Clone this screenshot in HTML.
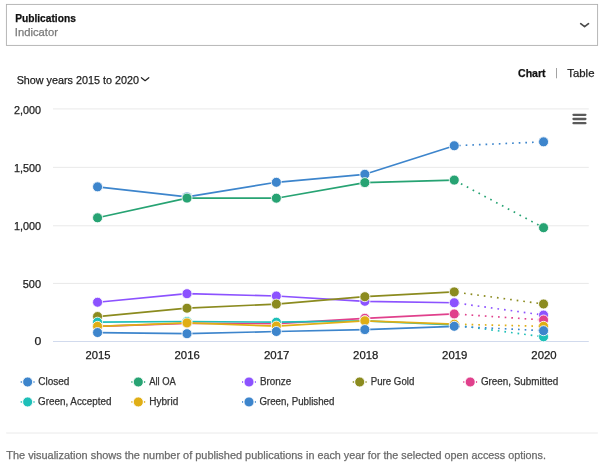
<!DOCTYPE html><html><head><meta charset="utf-8"><title>Publications</title>
<style>html,body{margin:0;padding:0;background:#fff}body{width:602px;height:465px;overflow:hidden}svg{display:block}text{font-family:"Liberation Sans",sans-serif}</style></head><body>
<svg width="602" height="465" viewBox="0 0 602 465">
<rect width="602" height="465" fill="#fff"/>
<rect x="6.4" y="4.4" width="591.2" height="41" fill="#fff" stroke="#b0b0b0" stroke-width="0.9"/>
<path d="M580.7 23.7 L584.6 26.7 L588.5 23.7" fill="none" stroke="#4a4a4a" stroke-width="1.7" stroke-linecap="round" stroke-linejoin="round"/>
<path d="M141.4 77.7 L145.1 80.7 L148.8 77.7" fill="none" stroke="#222" stroke-width="1.2" stroke-linecap="round" stroke-linejoin="round"/>
<line x1="556.5" y1="68" x2="556.5" y2="78.3" stroke="#999" stroke-width="0.9"/>
<line x1="53" y1="108.9" x2="588.8" y2="108.9" stroke="#e6e6e6" stroke-width="0.9"/>
<line x1="53" y1="167.4" x2="588.8" y2="167.4" stroke="#e6e6e6" stroke-width="0.9"/>
<line x1="53" y1="225.75" x2="588.8" y2="225.75" stroke="#e6e6e6" stroke-width="0.9"/>
<line x1="53" y1="283.45" x2="588.8" y2="283.45" stroke="#e6e6e6" stroke-width="0.9"/>
<line x1="53" y1="341.5" x2="588.8" y2="341.5" stroke="#ccd6eb" stroke-width="0.9"/>
<line x1="573.5" y1="114.8" x2="585.4" y2="114.8" stroke="#5a5a5a" stroke-width="2.3" stroke-linecap="round"/>
<line x1="573.5" y1="119.0" x2="585.4" y2="119.0" stroke="#5a5a5a" stroke-width="2.3" stroke-linecap="round"/>
<line x1="573.5" y1="123.2" x2="585.4" y2="123.2" stroke="#5a5a5a" stroke-width="2.3" stroke-linecap="round"/>
<path d="M97.55 186.85 L187.0 196.9 L276.35 182.3 L364.85 174.3 L454.25 145.75" fill="none" stroke="#3d85cc" stroke-width="1.66" stroke-linejoin="round" stroke-linecap="round"/>
<path d="M454.25 145.75 L543.55 141.85" fill="none" stroke="#3d85cc" stroke-width="1.66" stroke-dasharray="1.66 4.98" stroke-dashoffset="1.87"/>
<circle cx="97.55" cy="186.85" r="5.0" fill="#3d85cc" stroke="#fff" stroke-width="0.83"/>
<circle cx="187.0" cy="196.9" r="5.0" fill="#3d85cc" stroke="#fff" stroke-width="0.83"/>
<circle cx="276.35" cy="182.3" r="5.0" fill="#3d85cc" stroke="#fff" stroke-width="0.83"/>
<circle cx="364.85" cy="174.3" r="5.0" fill="#3d85cc" stroke="#fff" stroke-width="0.83"/>
<circle cx="454.25" cy="145.75" r="5.0" fill="#3d85cc" stroke="#fff" stroke-width="0.83"/>
<circle cx="543.55" cy="141.85" r="5.0" fill="#3d85cc" stroke="#fff" stroke-width="0.83"/>
<path d="M97.55 217.8 L187.0 198.1 L276.35 198.2 L364.85 182.6 L454.25 180.1" fill="none" stroke="#27a373" stroke-width="1.66" stroke-linejoin="round" stroke-linecap="round"/>
<path d="M454.25 180.1 L543.55 227.7" fill="none" stroke="#27a373" stroke-width="1.66" stroke-dasharray="1.66 4.98" stroke-dashoffset="5.71"/>
<circle cx="97.55" cy="217.8" r="5.0" fill="#27a373" stroke="#fff" stroke-width="0.83"/>
<circle cx="187.0" cy="198.1" r="5.0" fill="#27a373" stroke="#fff" stroke-width="0.83"/>
<circle cx="276.35" cy="198.2" r="5.0" fill="#27a373" stroke="#fff" stroke-width="0.83"/>
<circle cx="364.85" cy="182.6" r="5.0" fill="#27a373" stroke="#fff" stroke-width="0.83"/>
<circle cx="454.25" cy="180.1" r="5.0" fill="#27a373" stroke="#fff" stroke-width="0.83"/>
<circle cx="543.55" cy="227.7" r="5.0" fill="#27a373" stroke="#fff" stroke-width="0.83"/>
<path d="M97.55 302.25 L187.0 293.7 L276.35 296.0 L364.85 301.3 L454.25 302.75" fill="none" stroke="#8c52ff" stroke-width="1.66" stroke-linejoin="round" stroke-linecap="round"/>
<path d="M454.25 302.75 L543.55 315.1" fill="none" stroke="#8c52ff" stroke-width="1.66" stroke-dasharray="1.66 4.98" stroke-dashoffset="2.89"/>
<circle cx="97.55" cy="302.25" r="5.0" fill="#8c52ff" stroke="#fff" stroke-width="0.83"/>
<circle cx="187.0" cy="293.7" r="5.0" fill="#8c52ff" stroke="#fff" stroke-width="0.83"/>
<circle cx="276.35" cy="296.0" r="5.0" fill="#8c52ff" stroke="#fff" stroke-width="0.83"/>
<circle cx="364.85" cy="301.3" r="5.0" fill="#8c52ff" stroke="#fff" stroke-width="0.83"/>
<circle cx="454.25" cy="302.75" r="5.0" fill="#8c52ff" stroke="#fff" stroke-width="0.83"/>
<circle cx="543.55" cy="315.1" r="5.0" fill="#8c52ff" stroke="#fff" stroke-width="0.83"/>
<path d="M97.55 316.55 L187.0 308.2 L276.35 304.1 L364.85 296.7 L454.25 291.9" fill="none" stroke="#8b8b1f" stroke-width="1.66" stroke-linejoin="round" stroke-linecap="round"/>
<path d="M454.25 291.9 L543.55 304.0" fill="none" stroke="#8b8b1f" stroke-width="1.66" stroke-dasharray="1.66 4.98" stroke-dashoffset="3.40"/>
<circle cx="97.55" cy="316.55" r="5.0" fill="#8b8b1f" stroke="#fff" stroke-width="0.83"/>
<circle cx="187.0" cy="308.2" r="5.0" fill="#8b8b1f" stroke="#fff" stroke-width="0.83"/>
<circle cx="276.35" cy="304.1" r="5.0" fill="#8b8b1f" stroke="#fff" stroke-width="0.83"/>
<circle cx="364.85" cy="296.7" r="5.0" fill="#8b8b1f" stroke="#fff" stroke-width="0.83"/>
<circle cx="454.25" cy="291.9" r="5.0" fill="#8b8b1f" stroke="#fff" stroke-width="0.83"/>
<circle cx="543.55" cy="304.0" r="5.0" fill="#8b8b1f" stroke="#fff" stroke-width="0.83"/>
<path d="M97.55 326.35 L187.0 323.3 L276.35 323.55 L364.85 318.3 L454.25 313.95" fill="none" stroke="#e0408c" stroke-width="1.66" stroke-linejoin="round" stroke-linecap="round"/>
<path d="M454.25 313.95 L543.55 320.0" fill="none" stroke="#e0408c" stroke-width="1.66" stroke-dasharray="1.66 4.98" stroke-dashoffset="2.57"/>
<circle cx="97.55" cy="326.35" r="5.0" fill="#e0408c" stroke="#fff" stroke-width="0.83"/>
<circle cx="187.0" cy="323.3" r="5.0" fill="#e0408c" stroke="#fff" stroke-width="0.83"/>
<circle cx="276.35" cy="323.55" r="5.0" fill="#e0408c" stroke="#fff" stroke-width="0.83"/>
<circle cx="364.85" cy="318.3" r="5.0" fill="#e0408c" stroke="#fff" stroke-width="0.83"/>
<circle cx="454.25" cy="313.95" r="5.0" fill="#e0408c" stroke="#fff" stroke-width="0.83"/>
<circle cx="543.55" cy="320.0" r="5.0" fill="#e0408c" stroke="#fff" stroke-width="0.83"/>
<path d="M97.55 322.2 L187.0 321.5 L276.35 322.2 L364.85 320.8 L454.25 325.0" fill="none" stroke="#1ebfb8" stroke-width="1.66" stroke-linejoin="round" stroke-linecap="round"/>
<path d="M454.25 325.0 L543.55 336.8" fill="none" stroke="#1ebfb8" stroke-width="1.66" stroke-dasharray="1.66 4.98" stroke-dashoffset="2.57"/>
<circle cx="97.55" cy="322.2" r="5.0" fill="#1ebfb8" stroke="#fff" stroke-width="0.83"/>
<circle cx="187.0" cy="321.5" r="5.0" fill="#1ebfb8" stroke="#fff" stroke-width="0.83"/>
<circle cx="276.35" cy="322.2" r="5.0" fill="#1ebfb8" stroke="#fff" stroke-width="0.83"/>
<circle cx="364.85" cy="320.8" r="5.0" fill="#1ebfb8" stroke="#fff" stroke-width="0.83"/>
<circle cx="454.25" cy="325.0" r="5.0" fill="#1ebfb8" stroke="#fff" stroke-width="0.83"/>
<circle cx="543.55" cy="336.8" r="5.0" fill="#1ebfb8" stroke="#fff" stroke-width="0.83"/>
<path d="M97.55 326.35 L187.0 322.9 L276.35 326.1 L364.85 320.8 L454.25 324.2" fill="none" stroke="#e0ae15" stroke-width="1.66" stroke-linejoin="round" stroke-linecap="round"/>
<path d="M454.25 324.2 L543.55 326.3" fill="none" stroke="#e0ae15" stroke-width="1.66" stroke-dasharray="1.66 4.98" stroke-dashoffset="2.57"/>
<circle cx="97.55" cy="326.35" r="5.0" fill="#e0ae15" stroke="#fff" stroke-width="0.83"/>
<circle cx="187.0" cy="322.9" r="5.0" fill="#e0ae15" stroke="#fff" stroke-width="0.83"/>
<circle cx="276.35" cy="326.1" r="5.0" fill="#e0ae15" stroke="#fff" stroke-width="0.83"/>
<circle cx="364.85" cy="320.8" r="5.0" fill="#e0ae15" stroke="#fff" stroke-width="0.83"/>
<circle cx="454.25" cy="324.2" r="5.0" fill="#e0ae15" stroke="#fff" stroke-width="0.83"/>
<circle cx="543.55" cy="326.3" r="5.0" fill="#e0ae15" stroke="#fff" stroke-width="0.83"/>
<path d="M97.55 332.55 L187.0 333.7 L276.35 331.5 L364.85 329.6 L454.25 326.3" fill="none" stroke="#3d85cc" stroke-width="1.66" stroke-linejoin="round" stroke-linecap="round"/>
<path d="M454.25 326.3 L543.55 330.7" fill="none" stroke="#3d85cc" stroke-width="1.66" stroke-dasharray="1.66 4.98" stroke-dashoffset="2.57"/>
<circle cx="97.55" cy="332.55" r="5.0" fill="#3d85cc" stroke="#fff" stroke-width="0.83"/>
<circle cx="187.0" cy="333.7" r="5.0" fill="#3d85cc" stroke="#fff" stroke-width="0.83"/>
<circle cx="276.35" cy="331.5" r="5.0" fill="#3d85cc" stroke="#fff" stroke-width="0.83"/>
<circle cx="364.85" cy="329.6" r="5.0" fill="#3d85cc" stroke="#fff" stroke-width="0.83"/>
<circle cx="454.25" cy="326.3" r="5.0" fill="#3d85cc" stroke="#fff" stroke-width="0.83"/>
<circle cx="543.55" cy="330.7" r="5.0" fill="#3d85cc" stroke="#fff" stroke-width="0.83"/>
<rect x="20.70" y="381.17" width="1.15" height="1.66" fill="#3d85cc"/><rect x="33.40" y="381.17" width="1.15" height="1.66" fill="#3d85cc"/>
<circle cx="27.65" cy="382.0" r="5.0" fill="#3d85cc" stroke="#fff" stroke-width="0.83"/>
<rect x="131.35" y="381.17" width="1.15" height="1.66" fill="#27a373"/><rect x="144.05" y="381.17" width="1.15" height="1.66" fill="#27a373"/>
<circle cx="138.3" cy="382.0" r="5.0" fill="#27a373" stroke="#fff" stroke-width="0.83"/>
<rect x="242.05" y="381.17" width="1.15" height="1.66" fill="#8c52ff"/><rect x="254.75" y="381.17" width="1.15" height="1.66" fill="#8c52ff"/>
<circle cx="249.0" cy="382.0" r="5.0" fill="#8c52ff" stroke="#fff" stroke-width="0.83"/>
<rect x="352.75" y="381.17" width="1.15" height="1.66" fill="#8b8b1f"/><rect x="365.45" y="381.17" width="1.15" height="1.66" fill="#8b8b1f"/>
<circle cx="359.7" cy="382.0" r="5.0" fill="#8b8b1f" stroke="#fff" stroke-width="0.83"/>
<rect x="463.25" y="381.17" width="1.15" height="1.66" fill="#e0408c"/><rect x="475.95" y="381.17" width="1.15" height="1.66" fill="#e0408c"/>
<circle cx="470.2" cy="382.0" r="5.0" fill="#e0408c" stroke="#fff" stroke-width="0.83"/>
<rect x="20.70" y="401.12" width="1.15" height="1.66" fill="#1ebfb8"/><rect x="33.40" y="401.12" width="1.15" height="1.66" fill="#1ebfb8"/>
<circle cx="27.65" cy="401.95" r="5.0" fill="#1ebfb8" stroke="#fff" stroke-width="0.83"/>
<rect x="131.35" y="401.12" width="1.15" height="1.66" fill="#e0ae15"/><rect x="144.05" y="401.12" width="1.15" height="1.66" fill="#e0ae15"/>
<circle cx="138.3" cy="401.95" r="5.0" fill="#e0ae15" stroke="#fff" stroke-width="0.83"/>
<rect x="242.05" y="401.12" width="1.15" height="1.66" fill="#3d85cc"/><rect x="254.75" y="401.12" width="1.15" height="1.66" fill="#3d85cc"/>
<circle cx="249.0" cy="401.95" r="5.0" fill="#3d85cc" stroke="#fff" stroke-width="0.83"/>
<line x1="6.2" y1="433" x2="597.8" y2="433" stroke="#e8e8e8" stroke-width="0.9"/>
<text x="15.15" y="21.9" font-size="10.8" font-weight="bold" fill="#111" stroke="#111" stroke-width="0.25" textLength="60.68" lengthAdjust="spacingAndGlyphs">Publications</text>
<text x="14.88" y="36.4" font-size="10.8" fill="#7a7a7a" stroke="#7a7a7a" stroke-width="0.25" textLength="43.10" lengthAdjust="spacingAndGlyphs">Indicator</text>
<text x="16.65" y="83.55" font-size="11.6" fill="#1c1c1c" stroke="#1c1c1c" stroke-width="0.25" textLength="122.28" lengthAdjust="spacingAndGlyphs">Show years 2015 to 2020</text>
<text x="518.02" y="76.6" font-size="10.8" font-weight="bold" fill="#111" stroke="#111" stroke-width="0.25" textLength="27.58" lengthAdjust="spacingAndGlyphs">Chart</text>
<text x="567.31" y="76.6" font-size="10.8" fill="#222" stroke="#222" stroke-width="0.25" textLength="27.16" lengthAdjust="spacingAndGlyphs">Table</text>
<text x="14.10" y="113.5" font-size="11.3" fill="#1c1c1c" stroke="#1c1c1c" stroke-width="0.25" textLength="27.00" lengthAdjust="spacingAndGlyphs">2,000</text>
<text x="14.02" y="171.7" font-size="11.3" fill="#1c1c1c" stroke="#1c1c1c" stroke-width="0.25" textLength="27.14" lengthAdjust="spacingAndGlyphs">1,500</text>
<text x="14.02" y="229.6" font-size="11.3" fill="#1c1c1c" stroke="#1c1c1c" stroke-width="0.25" textLength="27.14" lengthAdjust="spacingAndGlyphs">1,000</text>
<text x="22.76" y="287.75" font-size="11.3" fill="#1c1c1c" stroke="#1c1c1c" stroke-width="0.25" textLength="18.35" lengthAdjust="spacingAndGlyphs">500</text>
<text x="34.52" y="345.25" font-size="11.3" fill="#1c1c1c" stroke="#1c1c1c" stroke-width="0.25" textLength="6.83" lengthAdjust="spacingAndGlyphs">0</text>
<text x="85.51" y="358.7" font-size="11.3" fill="#1c1c1c" stroke="#1c1c1c" stroke-width="0.25" textLength="24.94" lengthAdjust="spacingAndGlyphs">2015</text>
<text x="174.56" y="358.7" font-size="11.3" fill="#1c1c1c" stroke="#1c1c1c" stroke-width="0.25" textLength="25.20" lengthAdjust="spacingAndGlyphs">2016</text>
<text x="263.98" y="358.7" font-size="11.3" fill="#1c1c1c" stroke="#1c1c1c" stroke-width="0.25" textLength="25.49" lengthAdjust="spacingAndGlyphs">2017</text>
<text x="353.11" y="358.7" font-size="11.3" fill="#1c1c1c" stroke="#1c1c1c" stroke-width="0.25" textLength="25.20" lengthAdjust="spacingAndGlyphs">2018</text>
<text x="442.11" y="358.7" font-size="11.3" fill="#1c1c1c" stroke="#1c1c1c" stroke-width="0.25" textLength="25.23" lengthAdjust="spacingAndGlyphs">2019</text>
<text x="531.38" y="358.7" font-size="11.3" fill="#1c1c1c" stroke="#1c1c1c" stroke-width="0.25" textLength="25.26" lengthAdjust="spacingAndGlyphs">2020</text>
<text x="38.20" y="385.3" font-size="10" fill="#333" stroke="#333" stroke-width="0.25" textLength="31.22" lengthAdjust="spacingAndGlyphs">Closed</text>
<text x="149.18" y="385.3" font-size="10" fill="#333" stroke="#333" stroke-width="0.25" textLength="26.69" lengthAdjust="spacingAndGlyphs">All OA</text>
<text x="259.91" y="385.3" font-size="10" fill="#333" stroke="#333" stroke-width="0.25" textLength="31.36" lengthAdjust="spacingAndGlyphs">Bronze</text>
<text x="370.71" y="385.3" font-size="10" fill="#333" stroke="#333" stroke-width="0.25" textLength="43.60" lengthAdjust="spacingAndGlyphs">Pure Gold</text>
<text x="480.90" y="385.3" font-size="10" fill="#333" stroke="#333" stroke-width="0.25" textLength="77.22" lengthAdjust="spacingAndGlyphs">Green, Submitted</text>
<text x="38.05" y="405.25" font-size="10" fill="#333" stroke="#333" stroke-width="0.25" textLength="73.40" lengthAdjust="spacingAndGlyphs">Green, Accepted</text>
<text x="149.33" y="405.25" font-size="10" fill="#333" stroke="#333" stroke-width="0.25" textLength="28.91" lengthAdjust="spacingAndGlyphs">Hybrid</text>
<text x="259.41" y="405.25" font-size="10" fill="#333" stroke="#333" stroke-width="0.25" textLength="74.91" lengthAdjust="spacingAndGlyphs">Green, Published</text>
<text x="6.25" y="459.1" font-size="10.8" fill="#6a6a6a" stroke="#6a6a6a" stroke-width="0.25" textLength="296.57" lengthAdjust="spacingAndGlyphs">The visualization shows the number of published publications</text>
<text x="306.03" y="459.1" font-size="10.8" fill="#6a6a6a" stroke="#6a6a6a" stroke-width="0.25" textLength="239.90" lengthAdjust="spacingAndGlyphs">in each year for the selected open access options.</text>
</svg></body></html>
